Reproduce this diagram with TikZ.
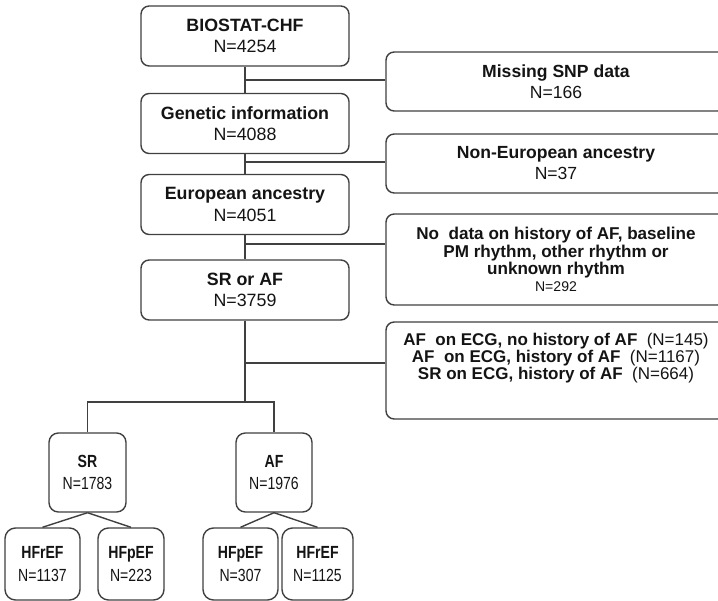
\documentclass[tikz,border=0pt]{standalone}
\usepackage{fontspec}
\setmainfont{Liberation Sans}
\newfontfamily\narrowfont[FakeStretch=0.8]{Liberation Sans}
\usepackage{tikz}
\usetikzlibrary{positioning}
\definecolor{fcline}{RGB}{64,64,64}
\definecolor{fctext}{RGB}{20,20,20}
\tikzset{
  fcMain/.style={draw=fcline, rounded corners=7pt, line width=1.2pt, fill=white,
                 align=center, inner sep=0pt, minimum width=6.24cm,
                 minimum height=1.8cm, text=fctext,
                 font=\fontsize{15.2}{18}\selectfont},
  fcExcl/.style={draw=fcline, rounded corners=7pt, line width=1.2pt, fill=white,
                 align=center, inner sep=0pt, minimum width=10.2cm,
                 minimum height=1.77cm, text=fctext,
                 font=\fontsize{15}{18}\selectfont},
  fcGroup/.style={draw=fcline, rounded corners=8pt, line width=1.2pt, fill=white,
                  align=center, inner sep=0pt, minimum width=2.31cm,
                  minimum height=2.37cm, text=fctext,
                  font=\narrowfont\fontsize{15}{18.5}\selectfont},
  fcLeaf/.style={draw=fcline, rounded corners=9pt, line width=1.2pt, fill=white,
                 align=center, inner sep=0pt, minimum height=2.16cm,
                 text=fctext, font=\narrowfont\fontsize{15}{20}\selectfont},
  fcLink/.style={draw=fcline, line width=1.2pt}
}
\begin{document}
\begin{tikzpicture}[x=0.03cm,y=-0.03cm]
  \useasboundingbox (0,0) rectangle (718,601);

  % main column
  \node[fcMain] (biostat) at (245,36)    {\textbf{BIOSTAT-CHF}\\N=4254};
  \node[fcMain] (genetic) at (245,123.5) {\textbf{Genetic information}\\N=4088};
  \node[fcMain] (europe)  at (245,204.5) {\textbf{European ancestry}\\N=4051};
  \node[fcMain] (srorAF)  at (245,290)   {\textbf{SR or AF}\\N=3759};

  % exclusions
  \node[fcExcl] (missing) at (556,81.5)  {\textbf{Missing SNP data}\\N=166};
  \node[fcExcl] (nonEU)   at (556,163.5) {\textbf{Non-European ancestry}\\N=37};
  \node[fcExcl, minimum height=2.73cm,
        font=\fontsize{14.6}{14.6}\selectfont] (nodata) at (556,259.5)
        {\textbf{No\ \ data on history of AF,\ baseline}\\
         \textbf{PM rhythm,\ other rhythm or}\\
         \textbf{unknown rhythm}\\
         {\fontsize{12}{15}\selectfont N=292}};
  \node[fcExcl, minimum height=2.91cm] (ecg) at (556,370.5) {};
  \node[align=center, inner sep=0pt, text=fctext,
        font=\fontsize{14.5}{14.2}\selectfont] (ecgtxt) at (556,358)
        {\textbf{AF\ \ on ECG, no history of AF}\ \ (N=145)\\
         \textbf{AF\ \ on ECG, history of AF}\ \ (N=1167)\\
         \textbf{SR on ECG, history of AF}\ \ (N=664)};

  % rhythm groups
  \node[fcGroup] (sr) at (87.5,472.5) {\textbf{SR}\\N=1783};
  \node[fcGroup, minimum width=2.28cm] (af) at (274,472.5) {\textbf{AF}\\N=1976};

  % HF phenotypes
  \node[fcLeaf, minimum width=2.25cm] (srHFr) at (42.5,564)  {\textbf{HFrEF}\\N=1137};
  \node[fcLeaf, minimum width=1.98cm] (srHFp) at (131,564)   {\textbf{HFpEF}\\N=223};
  \node[fcLeaf, minimum width=2.25cm] (afHFp) at (240.5,564) {\textbf{HFpEF}\\N=307};
  \node[fcLeaf, minimum width=2.13cm] (afHFr) at (317.5,564) {\textbf{HFrEF}\\N=1125};

  \coordinate (cutA) at (245,80);
  \coordinate (cutB) at (245,162);
  \coordinate (cutC) at (245,244);
  \coordinate (cutD) at (245,363);
  \coordinate (split) at (245,402);

  \draw[fcLink] (biostat.south) -- (genetic.north);
  \draw[fcLink] (genetic.south) -- (europe.north);
  \draw[fcLink] (europe.south) -- (srorAF.north);
  \draw[fcLink] (srorAF.south) -- (split);
  \draw[fcLink] (cutA) -- (missing.west |- cutA);
  \draw[fcLink] (cutB) -- (nonEU.west |- cutB);
  \draw[fcLink] (cutC) -- (nodata.west |- cutC);
  \draw[fcLink] (cutD) -- (ecg.west |- cutD);
  \draw[fcLink] (sr.north) -- (sr.north |- split) -- (af.north |- split) -- (af.north);
  \draw[fcLink] (sr.south) -- (srHFr.north);
  \draw[fcLink] (sr.south) -- (srHFp.north);
  \draw[fcLink] (af.south) -- (afHFp.north);
  \draw[fcLink] (af.south) -- (afHFr.north);
\end{tikzpicture}
\end{document}
